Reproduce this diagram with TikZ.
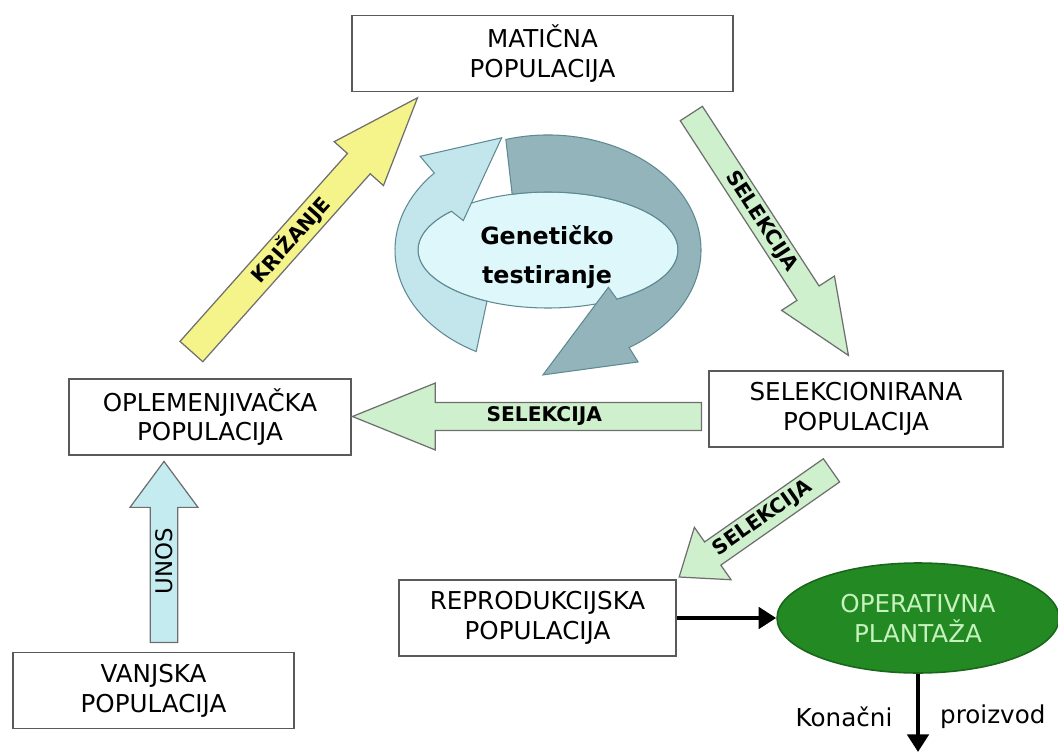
\documentclass[tikz,border=0pt]{standalone}
\usepackage{fontspec}
\setmainfont{DejaVu Sans}
\usetikzlibrary{shapes.arrows,shapes.geometric,arrows.meta}

\definecolor{boxline}{HTML}{5A5A5A}
\definecolor{arrline}{HTML}{6E6E6E}
\definecolor{krizfill}{HTML}{F4F48A}
\definecolor{selfill}{HTML}{CFF0CD}
\definecolor{unosfill}{HTML}{C4EBF0}
\definecolor{ringlight}{HTML}{C3E6EC}
\definecolor{ringdark}{HTML}{93B4BA}
\definecolor{ringfloor}{HTML}{DDF7FB}
\definecolor{ringline}{HTML}{5E8A92}
\definecolor{plantfill}{HTML}{238A23}
\definecolor{plantline}{HTML}{1A661A}
\definecolor{planttext}{HTML}{C6F2BE}

\begin{document}
\begin{tikzpicture}[x=0.02cm, y=-0.02cm,
	popbox/.style={draw=boxline, line width=0.9pt, fill=white, align=center, minimum width=#1, minimum height=1.52cm, font=\fontsize{14}{17}\selectfont},
	bigarrow/.style={single arrow, anchor=tail, draw=arrline, line width=0.7pt, single arrow head indent=0pt, inner sep=1pt, font=\bfseries\fontsize{11.5}{12}\selectfont},
	ringpart/.style={draw=ringline, line width=0.6pt},
	blackarrow/.style={line width=2.6pt, -{Triangle[length=10pt, width=12pt]}}]
				\useasboundingbox (0,0) rectangle (1058,753);

				\node[popbox=7.62cm] (matpop) at (542.5,53.5) {MATIČNA\\POPULACIJA};
				\node[popbox=5.64cm] (oplpop) at (210,417) {OPLEMENJIVAČKA\\POPULACIJA};
				\node[popbox=5.62cm] (vanpop) at (153.5,690.5) {VANJSKA\\POPULACIJA};
				\node[popbox=5.88cm] (selpop) at (856,409) {SELEKCIONIRANA\\POPULACIJA};
				\node[popbox=5.54cm] (reppop) at (537.5,618) {REPRODUKCIJSKA\\POPULACIJA};
				\node[ellipse, fill=plantfill, draw=plantline, line width=0.9pt, minimum width=5.64cm, minimum height=2.2cm, text=planttext, align=center, font=\fontsize{14}{17}\selectfont] (plant) at (918,618) {OPERATIVNA\\PLANTAŽA};
				\coordinate (prodend) at (918,752);

				\node[bigarrow, fill=krizfill, rotate=48.3, minimum height=6.8cm, minimum width=1.32cm, single arrow head extend=0.32cm, single arrow tip angle=41] (krizarr) at (191,352) {KRIŽANJE};
				\node[bigarrow, fill=selfill, rotate=-57, minimum height=5.77cm, minimum width=1.26cm, single arrow head extend=0.33cm, single arrow tip angle=46] (selarra) at (691,113) {SELEKCIJA};
				\node[bigarrow, fill=selfill, shape border rotate=180, minimum height=6.98cm, minimum width=1.34cm, single arrow head extend=0.33cm, single arrow tip angle=44] (selarrb) at (702,416.5) {SELEKCIJA};
				\node[bigarrow, fill=selfill, rotate=35, shape border rotate=180, minimum height=3.72cm, minimum width=1.28cm, single arrow head extend=0.3cm, single arrow tip angle=76] (selarrc) at (832,470) {SELEKCIJA};
				\node[bigarrow, fill=unosfill, rotate=90, minimum height=3.62cm, minimum width=1.36cm, single arrow head extend=0.32cm, single arrow tip angle=73, font=\fontsize{13}{13}\selectfont] (unosarr) at (164,643) {UNOS};

				\begin{scope}[shift={(548,250)}]
					\filldraw[ringpart, fill=ringfloor] (0,0) ellipse [x radius=130, y radius=58];
					\filldraw[ringpart, fill=ringlight] (118:153 and 115) arc[start angle=118, end angle=222, x radius=153, y radius=115] -- (222:172 and 140) -- (252:150 and 118) -- (222:114 and 44) -- (222:130 and 58) arc[start angle=222, end angle=118, x radius=130, y radius=58] -- cycle;
					\filldraw[ringpart, fill=ringdark] (254:153 and 115) arc[start angle=254, end angle=418, x radius=153, y radius=115] -- (418:170 and 132) -- (452:146 and 125) -- (418:114 and 44) -- (418:130 and 58) arc[start angle=418, end angle=254, x radius=130, y radius=58] -- cycle;
				\end{scope}
				\node[align=center, font=\bfseries\fontsize{13.5}{22}\selectfont] (gentest) at (547,257) {Genetičko\\testiranje};

				\draw [blackarrow](reppop) -- (plant);
				\draw [blackarrow](plant) -- (prodend) node[pos=0.55, left=10pt, font=\fontsize{14}{17}\selectfont] (konac) {Konačni} node[pos=0.55, right=8pt, font=\fontsize{14}{17}\selectfont] (proiz) {proizvod};
			\end{tikzpicture}
\end{document}
